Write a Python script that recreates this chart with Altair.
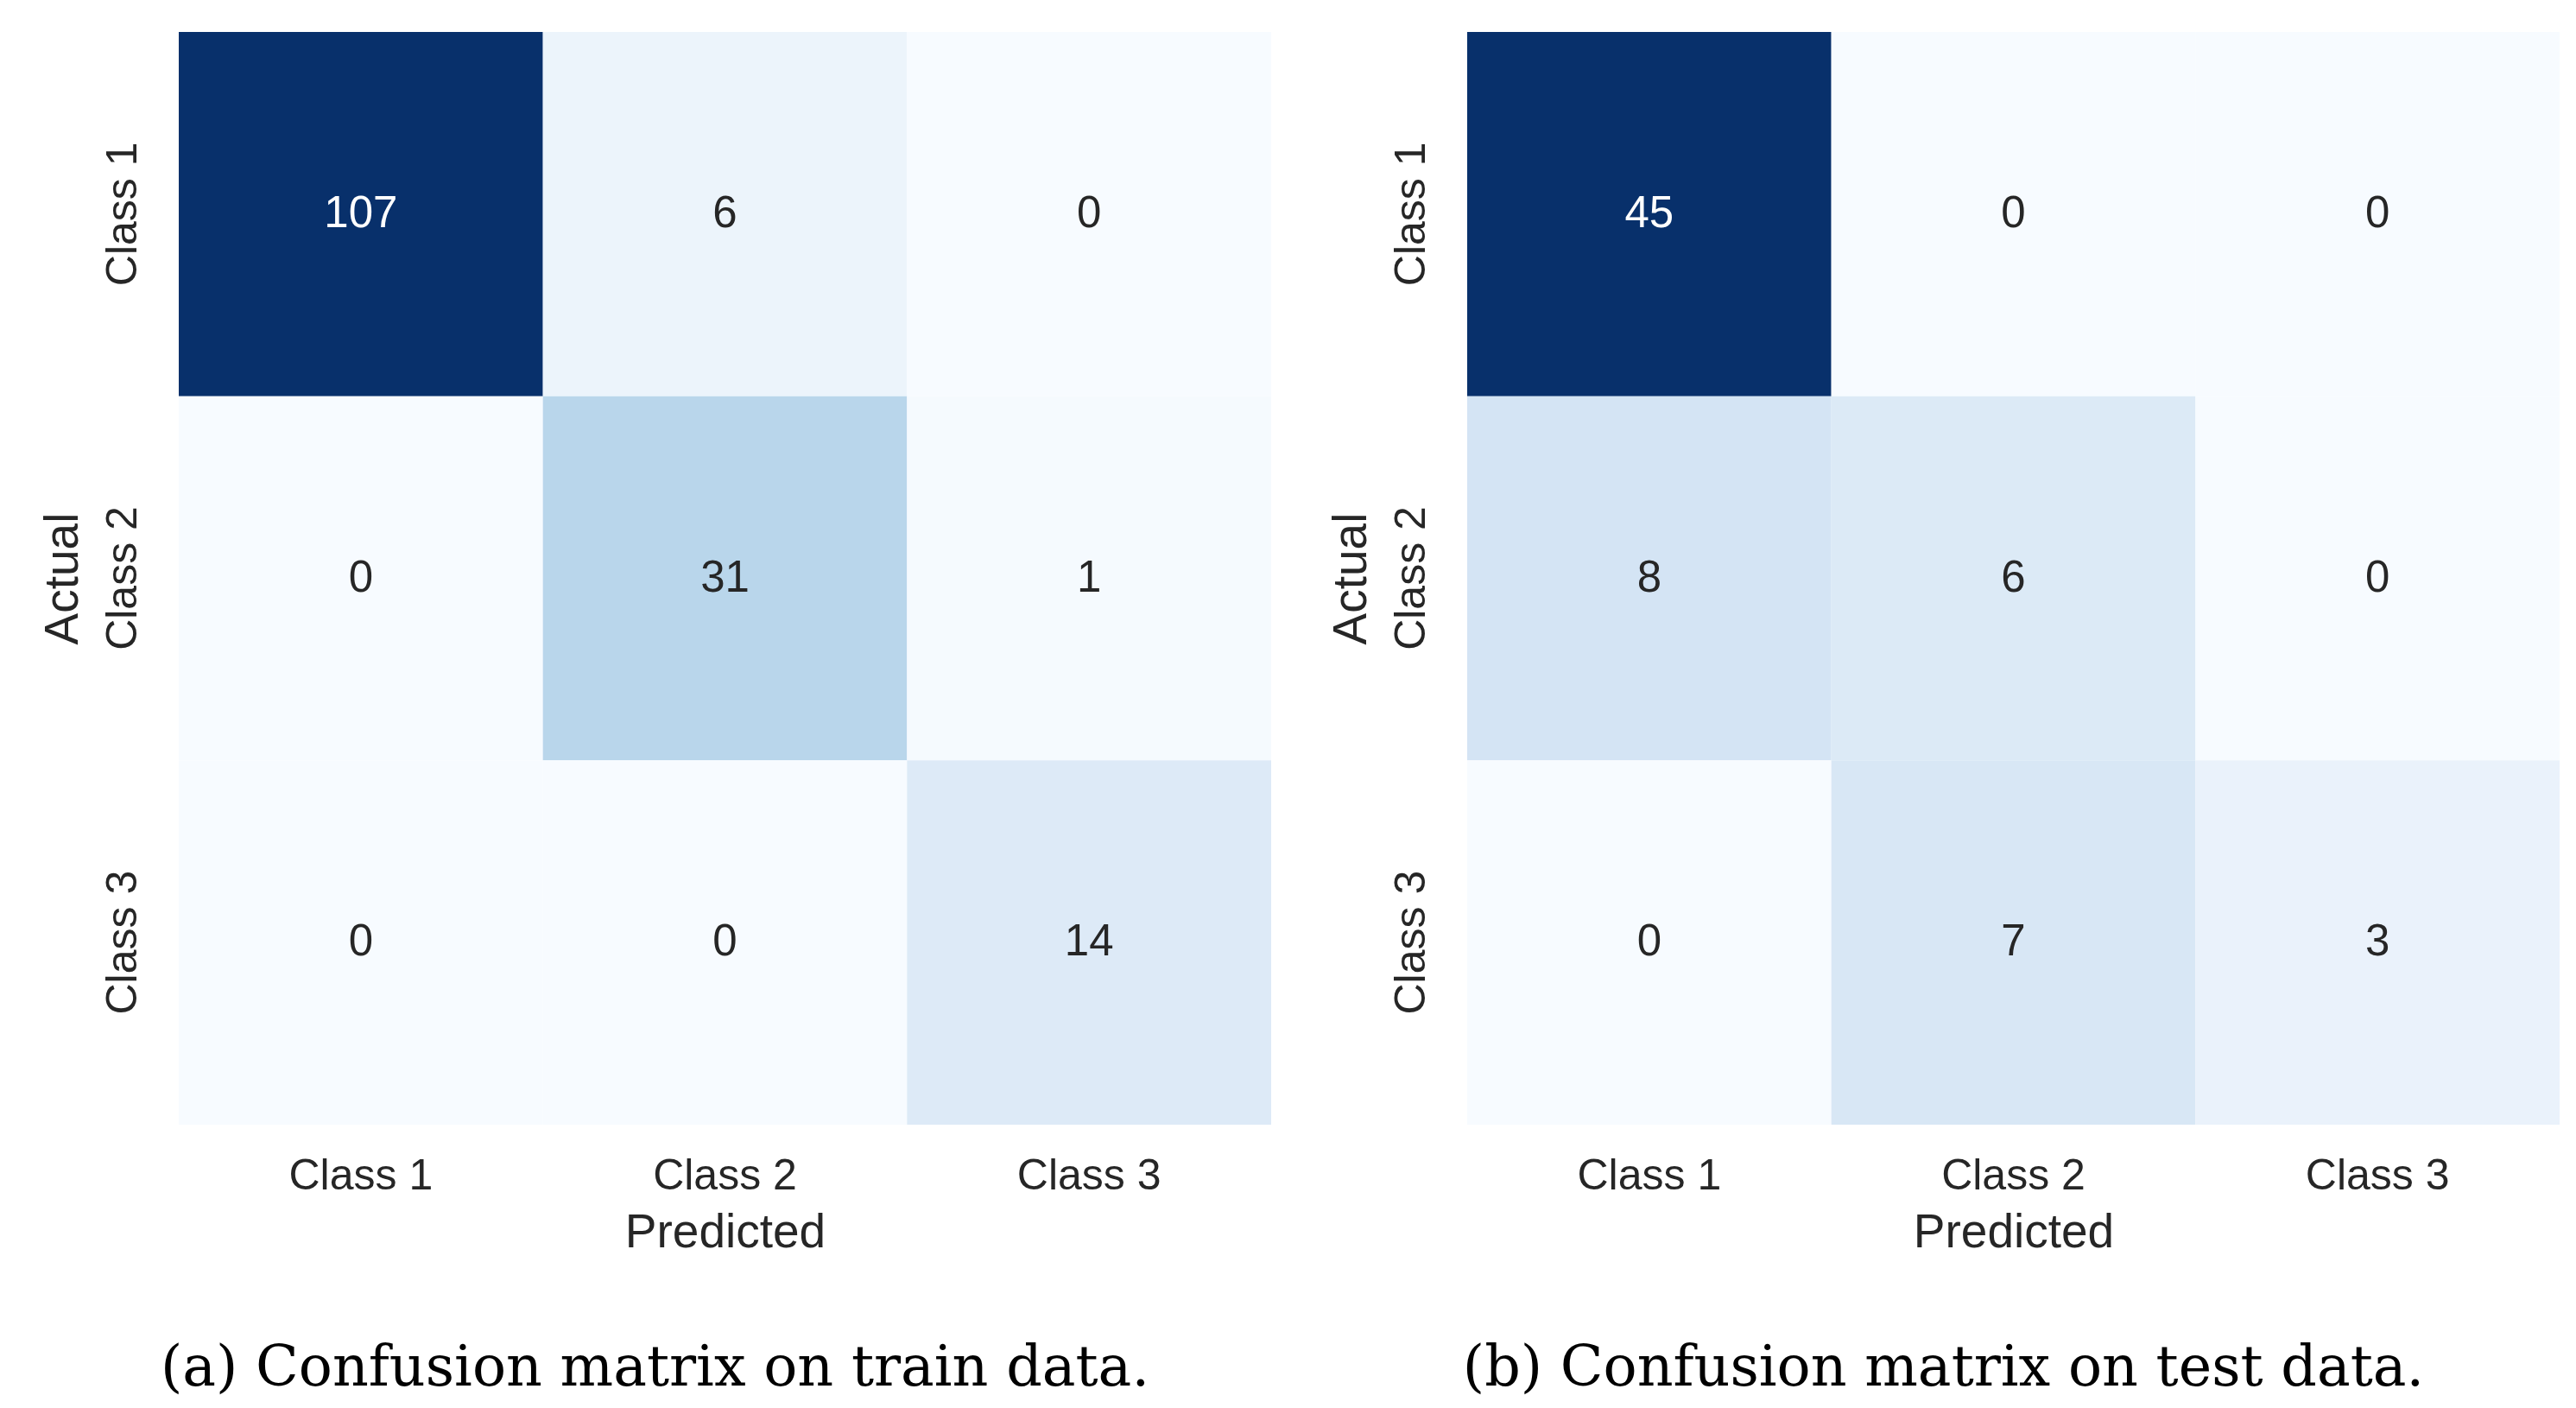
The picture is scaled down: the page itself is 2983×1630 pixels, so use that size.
import altair as alt
import pandas as pd

classes = ["Class 1", "Class 2", "Class 3"]
train_matrix = [[107, 6, 0], [0, 31, 1], [0, 0, 14]]
test_matrix = [[45, 0, 0], [8, 6, 0], [0, 7, 3]]
captions = ["(a) Confusion matrix on train data.", "(b) Confusion matrix on test data."]

blues = ["#f7fbff", "#deebf7", "#c6dbef", "#9ecae1", "#6baed6",
         "#4292c6", "#2171b5", "#08519c", "#08306b"]
stops = [i / 8 for i in range(9)]

SANS = "Liberation Sans"
INK = "#262626"


def to_df(matrix):
    rows = []
    for i, actual in enumerate(classes):
        for j, pred in enumerate(classes):
            rows.append({"Actual": actual, "Predicted": pred, "value": matrix[i][j]})
    return pd.DataFrame(rows)


def panel(matrix, caption):
    base = alt.Chart(to_df(matrix)).transform_joinaggregate(
        vmax="max(value)"
    ).transform_calculate(
        norm="datum.value / datum.vmax"
    ).encode(
        x=alt.X("Predicted:N", sort=classes, title="Predicted",
                axis=alt.Axis(labelAngle=0, labelPadding=34, titlePadding=14)),
        y=alt.Y("Actual:N", sort=classes, title="Actual",
                axis=alt.Axis(labelAngle=270, labelPadding=40, titlePadding=16)),
    )
    rect = base.mark_rect(strokeWidth=0).encode(
        color=alt.Color("norm:Q", legend=None,
                        scale=alt.Scale(domain=stops, range=blues, interpolate="rgb"))
    )
    text = base.mark_text(font=SANS, fontSize=51).encode(
        text=alt.Text("value:Q"),
        color=alt.condition("datum.norm > 0.6", alt.value("#ffffff"), alt.value(INK)),
    )
    return alt.layer(rect, text).properties(
        width=1265, height=1265,
        title=alt.TitleParams(text=caption, orient="bottom", anchor="middle",
                              frame="bounds", font="DejaVu Serif", fontSize=65,
                              fontWeight="normal", color="#000000", offset=99),
    )


chart = alt.hconcat(
    panel(train_matrix, captions[0]),
    panel(test_matrix, captions[1]),
    spacing=65,
).resolve_scale(color="independent").properties(
    padding={"left": 37, "top": 29, "right": 0, "bottom": 8}
).configure_view(stroke=None).configure_axis(
    domain=False, ticks=False, tickSize=0, grid=False,
    labelFont=SANS, labelFontSize=50, labelColor=INK,
    titleFont=SANS, titleFontSize=55, titleColor=INK, titleFontWeight="normal",
)

chart.save("out.html", embed_options={"renderer": "svg", "actions": False})
